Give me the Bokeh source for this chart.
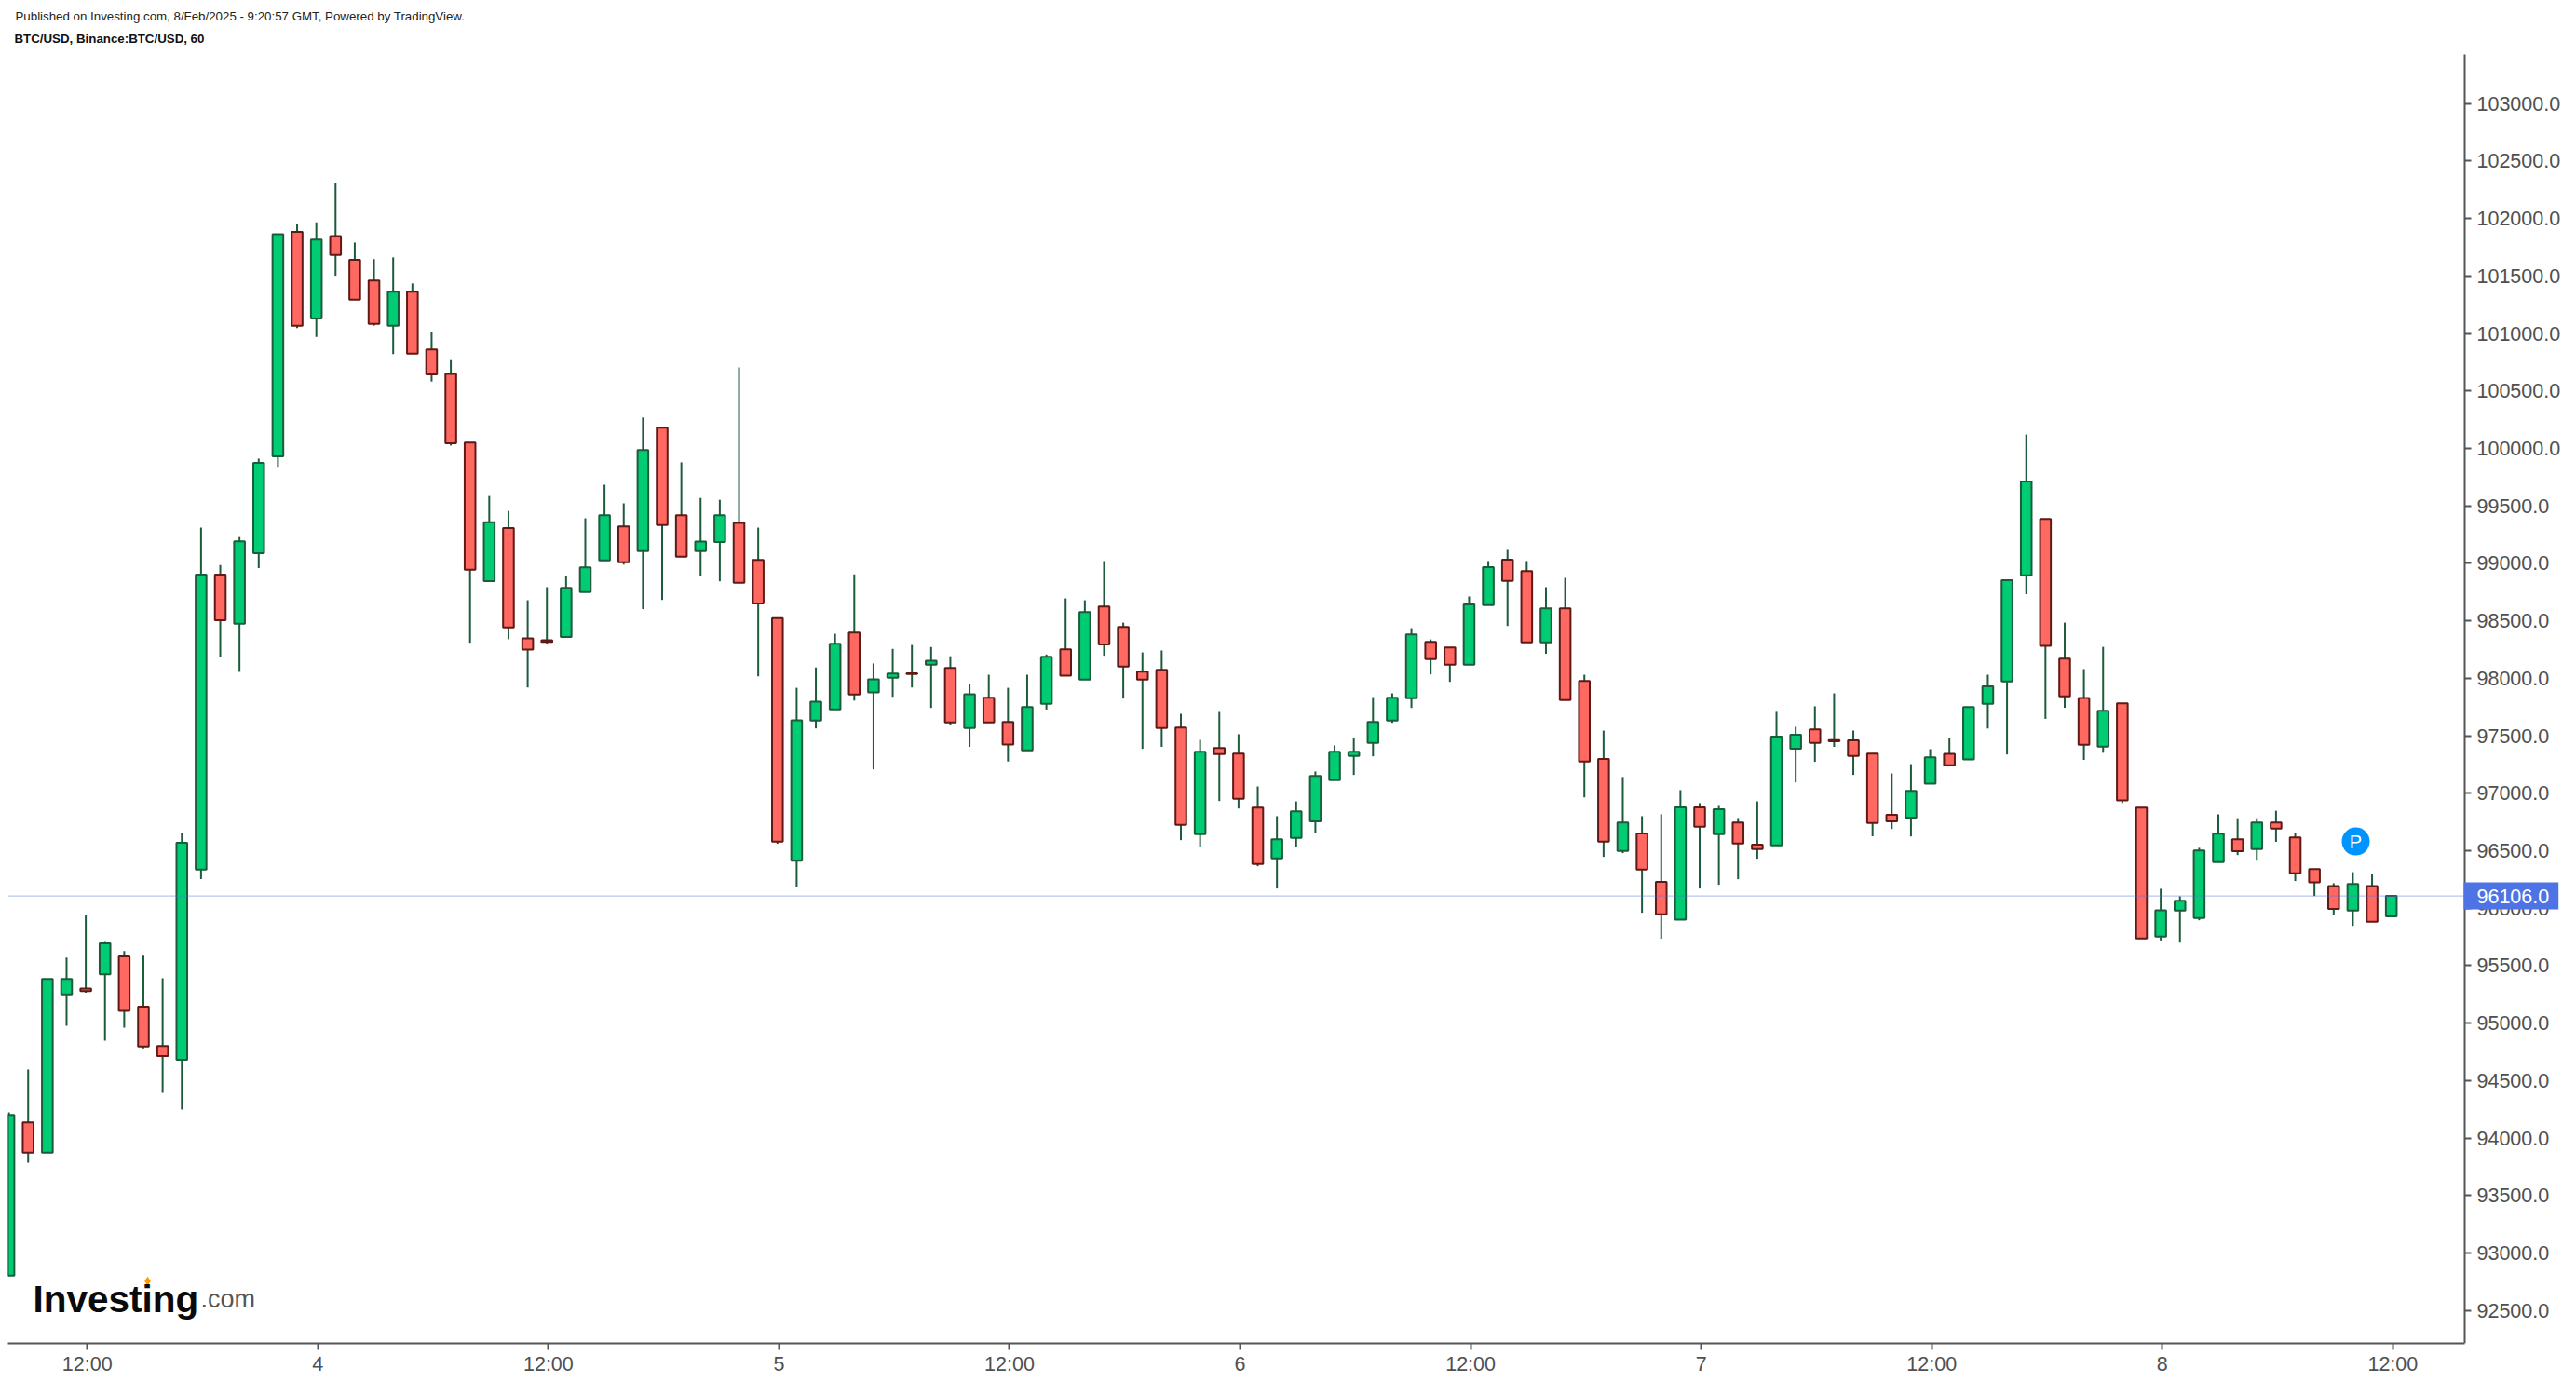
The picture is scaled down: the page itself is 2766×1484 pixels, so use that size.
from bokeh.plotting import figure
from bokeh.core.properties import value
from bokeh.models import (ColumnDataSource, FixedTicker, Label, PrintfTickFormatter, Range1d)
from bokeh.embed import file_html
from bokeh.resources import INLINE

HEADER_1 = "Published on Investing.com, 8/Feb/2025 - 9:20:57 GMT, Powered by TradingView."
HEADER_2 = "BTC/USD, Binance:BTC/USD, 60"

opens = [92803,94137,93872,95251,95300,95425,95581,95142,94801,94682,
         96336,98903,98474,99089,99931,101884,101130,101848,101641,101460,
         101068,101363,100861,100649,100050,98846,99307,98347,98330,98360,
         98750,99026,99321,99106,100181,99419,99106,99186,99351,99029,
         98524,96412,97632,97729,98397,97877,98004,98044,98119,98089,
         97567,97831,97620,97373,97777,98252,97988,98625,98447,98058,
         98074,97572,96643,97393,97345,96875,96433,96611,96756,97113,
         97324,97437,97632,97826,98317,98269,98118,98636,99031,98933,
         98313,98609,97977,97298,96498,96649,96228,95901,96876,96644,
         96746,96552,96547,97388,97556,97462,97459,97345,96811,96788,
         97083,97343,97293,97777,97972,98896,99387,98170,97829,97406,
         97783,96875,95753,95979,95914,96400,96599,96515,96745,96615,
         96339,96193,95979,96193,95929]
highs = [94223,94596,95384,95570,95941,95714,95627,95586,95389,96650,
         99311,98986,99229,99911,101864,101951,101966,102309,101791,101647,
         101662,101435,101011,100768,100050,99586,99456,98679,98793,98891,
         99392,99684,99522,100269,100181,99879,99569,99553,100705,99311,
         98524,97917,98094,98387,98904,98129,98256,98290,98272,98192,
         97949,98031,97917,98031,98207,98695,98679,99020,98484,98225,
         98242,97691,97464,97707,97513,97059,96800,96929,97189,97416,
         97481,97836,97869,98436,98338,98269,98712,99020,99117,99020,
         98793,98874,98031,97545,97141,96800,96817,97027,96913,96897,
         96784,96929,97708,97578,97756,97869,97545,97345,97172,97253,
         97383,97480,97749,98031,98853,100121,99387,98484,98080,98273,
         97783,96875,96168,96103,96525,96816,96782,96782,96847,96655,
         96339,96217,96313,96298,96106]
lows = [92803,93786,93872,94976,95264,94847,94961,94781,94393,94248,
        96252,98185,98056,98959,99832,101047,100970,101502,101295,101068,
        100820,100825,100582,100025,98309,98846,98340,97920,98294,98360,
        98750,99026,98989,98602,98682,99059,98894,98844,98831,98017,
        96560,96183,97564,97729,97806,97208,97839,97920,97742,97598,
        97403,97615,97276,97373,97728,98023,97988,98196,97823,97386,
        97403,96592,96528,96932,96867,96365,96171,96528,96658,97113,
        97159,97321,97612,97742,98034,97969,98118,98636,98455,98313,
        98213,97810,96964,96446,96479,95960,95734,95901,96171,96203,
        96252,96430,96547,97094,97273,97403,97159,96625,96689,96624,
        97083,97244,97293,97563,97337,98732,97647,97743,97290,97352,
        96915,95737,95719,95700,95895,96400,96462,96413,96577,96236,
        96106,95945,95846,95883,95929]
closes = [94201,93872,95384,95384,95279,95694,95106,94796,94713,96568,
          98903,98506,99192,99875,101864,101068,101816,101683,101295,101083,
          101363,100825,100644,100045,98945,99358,98443,98250,98317,98787,
          98964,99419,99009,99986,99334,99059,99190,99419,98831,98652,
          96579,97635,97796,98300,97860,97991,98041,98037,98152,97615,
          97862,97615,97424,97750,98188,98023,98576,98295,98102,97988,
          97567,96724,97361,97340,96951,96384,96600,96843,97151,97361,
          97361,97620,97831,98381,98166,98118,98642,98966,98847,98313,
          98609,97810,97276,96579,96746,96335,95947,96876,96708,96860,
          96563,96514,97492,97508,97437,97451,97324,96741,96756,97021,
          97312,97244,97749,97929,98853,99712,98282,97843,97421,97718,
          96937,95737,95982,96065,96502,96648,96496,96745,96692,96304,
          96224,95994,96211,95883,96106]

last_price = 96106
x_tick_positions = [4.08, 16.08, 28.08, 40.08, 52.08, 64.08, 76.08, 88.08, 100.08, 112.08, 124.08]
x_tick_labels = ["12:00", "4", "12:00", "5", "12:00", "6", "12:00", "7", "12:00", "8", "12:00"]
y_tick_values = [92500 + 500 * k for k in range(22)]
marker_x = [122.15]
marker_y = [96580]

FONT = "Liberation Sans"
TEXT = "#505050"
AXIS = "#555555"
X_LEFT, X_AXIS, X_RIGHT = -0.053, 127.82, 133.25
Y_BOTTOM, Y_AXIS_TOP, Y_TOP = 92214, 103427, 103897

p = figure(frame_width=2750, frame_height=1442, output_backend="svg", toolbar_location=None,
           x_range=Range1d(X_LEFT, X_RIGHT), y_range=Range1d(Y_BOTTOM, Y_TOP),
           y_axis_location="right", min_border_left=8, min_border_right=0,
           min_border_top=0, min_border_bottom=30, outline_line_color=None,
           background_fill_color="white", border_fill_color="white")
p.grid.visible = False

for ax in (p.xaxis[0], p.yaxis[0]):
    ax.axis_line_color = AXIS
    ax.axis_line_width = 2
    ax.major_tick_line_color = AXIS
    ax.major_tick_line_width = 2
    ax.major_tick_in = 0
    ax.major_tick_out = 7
    ax.minor_tick_line_color = None
    ax.major_label_text_font = FONT
    ax.major_label_text_font_size = "21.5px"
    ax.major_label_text_color = TEXT
    ax.major_label_standoff = 6

p.xaxis[0].major_label_standoff = 3
p.xaxis[0].ticker = FixedTicker(ticks=x_tick_positions)
p.xaxis[0].major_label_overrides = dict(zip(x_tick_positions, x_tick_labels))
p.xaxis[0].bounds = (X_LEFT, X_AXIS)
p.yaxis[0].ticker = FixedTicker(ticks=y_tick_values)
p.yaxis[0].formatter = PrintfTickFormatter(format="%.1f")
p.yaxis[0].fixed_location = X_AXIS
p.yaxis[0].bounds = (Y_BOTTOM, Y_AXIS_TOP)

idx = list(range(len(opens)))
p.segment(idx, highs, idx, lows, line_color="#1C5B3B", line_width=2)

green = [i for i in idx if closes[i] >= opens[i]]
red = [i for i in idx if closes[i] < opens[i]]
g_src = ColumnDataSource(dict(x=green, top=[closes[i] for i in green], bottom=[opens[i] for i in green]))
r_src = ColumnDataSource(dict(x=red, top=[opens[i] for i in red], bottom=[closes[i] for i in red]))
p.vbar(x="x", top="top", bottom="bottom", width=0.56, source=g_src,
       fill_color="#00CC73", line_color="#1C5B3B", line_width=2)
p.vbar(x="x", top="top", bottom="bottom", width=0.56, source=r_src,
       fill_color="#FF6961", line_color="#5F1A17", line_width=2)

p.line([X_LEFT, X_AXIS], [last_price, last_price], line_color="#4F73E6", line_alpha=0.5, line_width=1)

p.scatter(marker_x, marker_y, marker="circle", size=30, fill_color="#0094FF", line_color=None)
p.text(marker_x, marker_y, text=["P"], text_color="white", text_font=value(FONT), text_font_size="20px",
       text_align="center", text_baseline="middle")

p.add_layout(Label(x=2637, y=last_price, x_units="screen", y_units="data", text=f"{last_price}.0",
                   text_color="white", text_font=FONT, text_font_size="21.5px", text_baseline="middle",
                   background_fill_color="#4E73E5", padding=(14, 10, 7, 7)))

p.add_layout(Label(x=8, y=103757, x_units="screen", y_units="data", text=HEADER_1, text_color="#222222",
                   text_font=FONT, text_font_size="13.3px", text_baseline="middle"))
p.add_layout(Label(x=7, y=103567, x_units="screen", y_units="data", text=HEADER_2, text_color="#111111",
                   text_font=FONT, text_font_style="bold", text_font_size="13.3px", text_baseline="middle"))

p.add_layout(Label(x=27, y=92595, x_units="screen", y_units="data", text="Investing", text_color="#0A0A0A",
                   text_font=FONT, text_font_style="bold", text_font_size="40.5px", text_baseline="alphabetic"))
p.add_layout(Label(x=207, y=92595, x_units="screen", y_units="data", text=".com", text_color="#555555",
                   text_font=FONT, text_font_size="27px", text_baseline="alphabetic"))
p.scatter([7.22], [92755], marker="diamond", size=10, fill_color="#FF9A00", line_color=None)

open("out.html", "w").write(file_html(p, INLINE))
